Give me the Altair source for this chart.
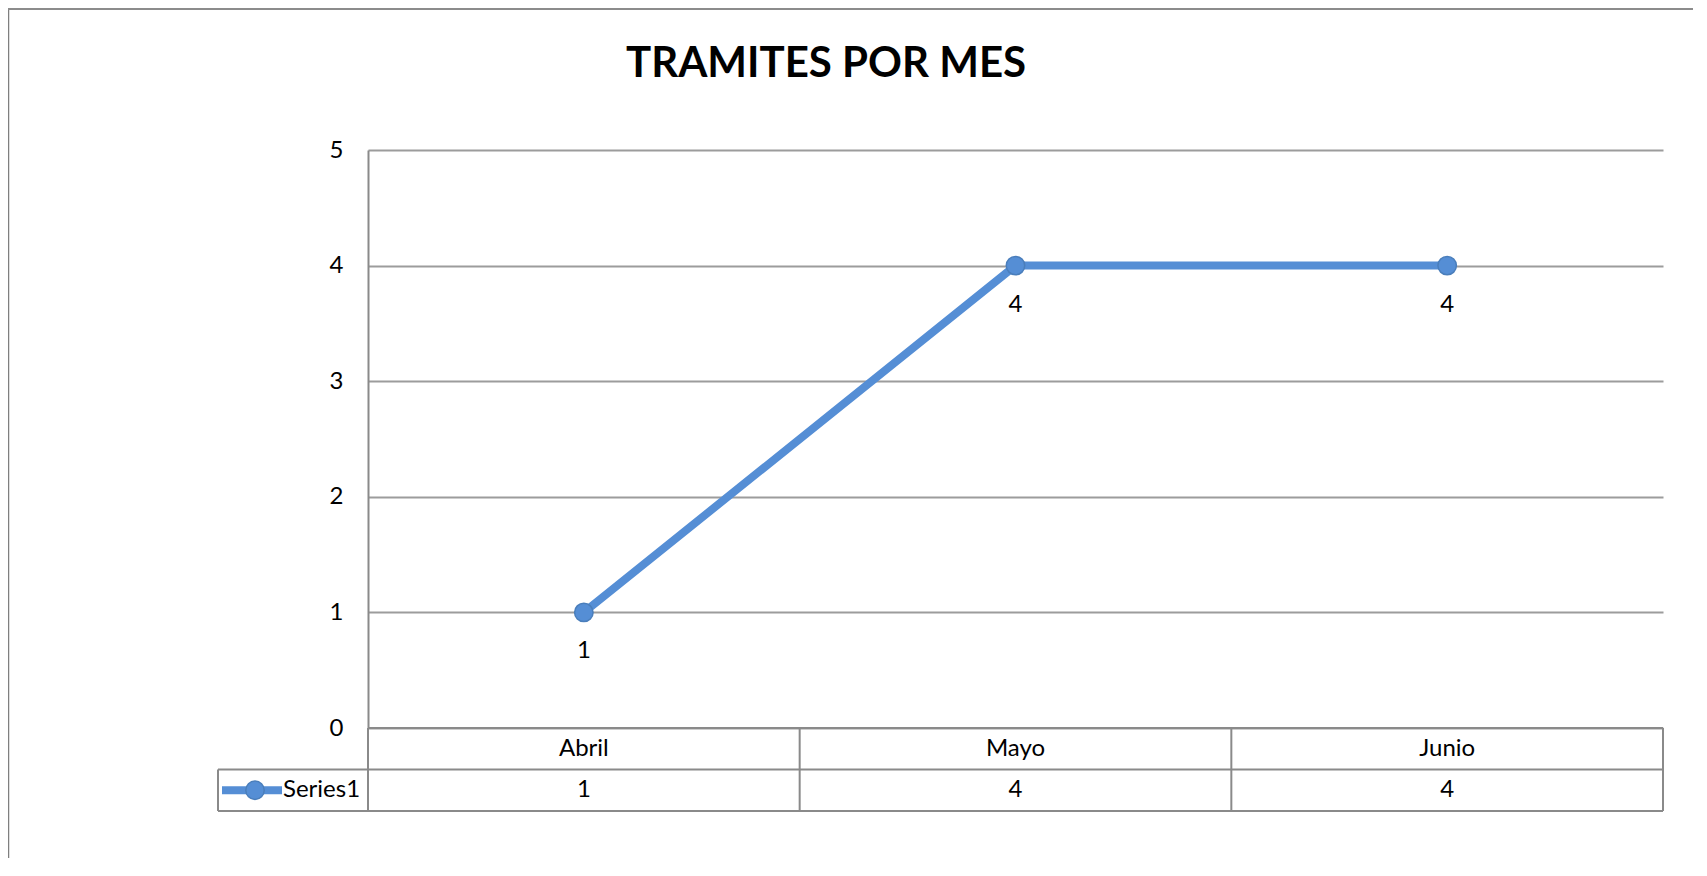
import altair as alt
import pandas as pd

# ---- data ----
months = ["Abril", "Mayo", "Junio"]
values = [1, 4, 4]
series_name = ["Series1"]
title_text = ["TRAMITES POR MES"]
y_ticks = [0, 1, 2, 3, 4, 5]

df = pd.DataFrame({"mes": months, "valor": values})
one = pd.DataFrame({"serie": series_name})
ttl = pd.DataFrame({"t": title_text})

# ---- layout / style ----
W, H = 1295, 578
ROW = 41.5
BLUE = "#558ED5"
BLUE_EDGE = "#4A7EBB"
GRID = "#9C9C9C"
LINE = "#8A8A8A"
FONT = "Lato"
FS = 24
PT = 340

x_scale = alt.Scale(domain=months, paddingInner=0, paddingOuter=0)
x_enc = alt.X("mes:N", sort=months, scale=x_scale, axis=None)
y_scale = alt.Scale(domain=[0, 5], nice=False, zero=True)

base = alt.Chart(df)

line = base.mark_line(color=BLUE, strokeWidth=8).encode(
    x=x_enc,
    y=alt.Y(
        "valor:Q",
        scale=y_scale,
        axis=alt.Axis(
            values=y_ticks,
            format="d",
            grid=True,
            gridColor=GRID,
            gridWidth=2,
            domain=True,
            domainColor=LINE,
            domainWidth=2,
            ticks=False,
            labelPadding=25,
            labelFontSize=FS,
            labelFont=FONT,
            labelColor="black",
            title=None,
        ),
    ),
)

points = base.mark_circle(
    size=PT, color=BLUE, stroke=BLUE_EDGE, strokeWidth=1.5, opacity=1
).encode(x=x_enc, y=alt.Y("valor:Q", scale=y_scale))

labels = base.mark_text(dy=39, fontSize=FS, font=FONT, color="black").encode(
    x=x_enc, y=alt.Y("valor:Q", scale=y_scale), text="valor:Q"
)

# ---- data table under the plot ----
cat_text = base.mark_text(fontSize=FS, font=FONT, color="black", baseline="middle").encode(
    x=x_enc, y=alt.value(H + ROW / 2), text="mes:N"
)
val_text = base.mark_text(fontSize=FS, font=FONT, color="black", baseline="middle").encode(
    x=x_enc, y=alt.value(H + ROW * 1.5), text="valor:Q"
)
vsep = base.mark_rule(color=LINE, strokeWidth=2).encode(
    x=alt.X("mes:N", sort=months, scale=x_scale, bandPosition=0, axis=None),
    y=alt.value(H),
    y2=alt.value(H + 2 * ROW),
)
deco = alt.Chart(one)
right_edge = deco.mark_rule(color=LINE, strokeWidth=2).encode(
    x=alt.value(W), y=alt.value(H), y2=alt.value(H + 2 * ROW)
)
h_top = deco.mark_rule(color=LINE, strokeWidth=2).encode(
    x=alt.value(0), x2=alt.value(W), y=alt.value(H)
)
h_mid = deco.mark_rule(color=LINE, strokeWidth=2).encode(
    x=alt.value(-150), x2=alt.value(W), y=alt.value(H + ROW)
)
h_bot = deco.mark_rule(color=LINE, strokeWidth=2).encode(
    x=alt.value(-150), x2=alt.value(W), y=alt.value(H + 2 * ROW)
)
left_edge = deco.mark_rule(color=LINE, strokeWidth=2).encode(
    x=alt.value(-150), y=alt.value(H + ROW), y2=alt.value(H + 2 * ROW)
)

# legend key inside the table
leg_line = deco.mark_rule(color=BLUE, strokeWidth=8).encode(
    x=alt.value(-146), x2=alt.value(-86), y=alt.value(H + ROW * 1.5)
)
leg_pt = deco.mark_circle(size=PT, color=BLUE, stroke=BLUE_EDGE, strokeWidth=1.5, opacity=1).encode(
    x=alt.value(-113), y=alt.value(H + ROW * 1.5)
)
leg_txt = deco.mark_text(fontSize=FS, font=FONT, color="black", align="left", baseline="middle").encode(
    x=alt.value(-85), y=alt.value(H + ROW * 1.5), text="serie:N"
)

# frame of the chart object
frame_left = deco.mark_rule(color="#7F7F7F", strokeWidth=1.5).encode(
    x=alt.value(-359.5), y=alt.value(-142), y2=alt.value(H + 140)
)
frame_top = deco.mark_rule(color="#8C8C8C", strokeWidth=2).encode(
    x=alt.value(-360), x2=alt.value(W + 40), y=alt.value(-141)
)

title = alt.Chart(ttl).mark_text(
    fontSize=42, font=FONT, fontWeight="bold", color="black", align="center", baseline="middle"
).encode(x=alt.value(458), y=alt.value(-86), text="t:N")

chart = alt.layer(
    line, points, labels,
    vsep, right_edge, h_top, h_mid, h_bot, left_edge,
    cat_text, val_text, leg_line, leg_pt, leg_txt,
    frame_left, frame_top, title,
).properties(
    width=W,
    height=H,
    autosize=alt.AutoSizeParams(type="none"),
    padding={"left": 360, "top": 142, "right": 30, "bottom": 130},
).configure_view(stroke=None)

chart.save("out.html", embed_options={"renderer": "svg", "actions": False})
